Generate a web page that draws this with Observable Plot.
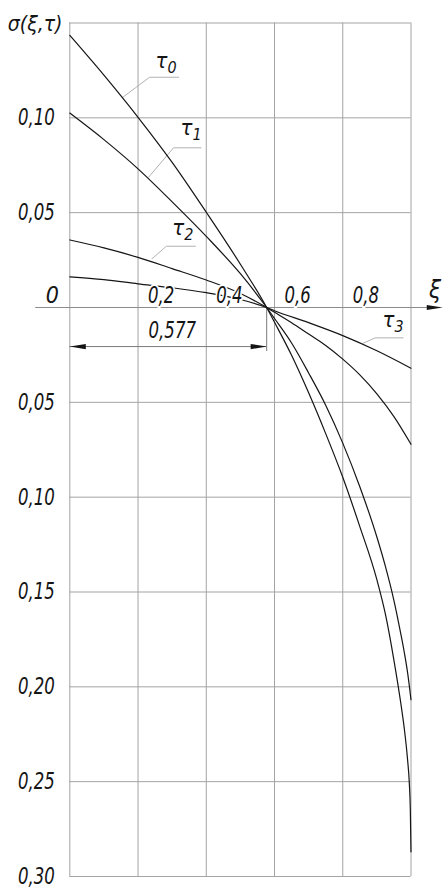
<!DOCTYPE html>
<html><head><meta charset="utf-8">
<script src="https://cdn.jsdelivr.net/npm/d3@7"></script>
<script src="https://cdn.jsdelivr.net/npm/@observablehq/plot@0.6"></script>
<style>html,body{margin:0;padding:0;background:#fff;} svg{display:block}</style>
</head><body><div id="chart"></div>
<script>
// ---- data ----
const seriesNames = ["τ0", "τ1", "τ2", "τ3"];
const seriesSubs = ["0", "1", "2", "3"];

const xiTau0 = [0, 0.1, 0.2, 0.3, 0.4, 0.5, 0.577, 0.6, 0.65, 0.7, 0.75, 0.8, 0.85, 0.9, 0.925, 0.95, 0.97, 0.98, 0.99, 0.995, 0.998, 1.0];
const sigmaTau0 = [0.1435, 0.1225, 0.1003, 0.0765, 0.0502, 0.0228, 0, -0.0078, -0.0252, -0.045, -0.0665, -0.0895, -0.1155, -0.1435, -0.1617, -0.186, -0.2085, -0.2215, -0.2385, -0.2505, -0.2645, -0.287];

const xiTau1 = [0, 0.1, 0.2, 0.3, 0.4, 0.5, 0.577, 0.6, 0.65, 0.7, 0.75, 0.8, 0.85, 0.9, 0.925, 0.95, 0.97, 0.98, 0.99, 1.0];
const sigmaTau1 = [0.1025, 0.0885, 0.0731, 0.0557, 0.0375, 0.0178, 0, -0.0058, -0.0187, -0.0345, -0.0515, -0.0715, -0.0945, -0.121, -0.1365, -0.1545, -0.172, -0.1815, -0.1925, -0.2068];

const xiTau2 = [0, 0.1, 0.2, 0.3, 0.4, 0.5, 0.577, 0.6, 0.65, 0.7, 0.75, 0.8, 0.85, 0.9, 0.95, 1.0];
const sigmaTau2 = [0.0356, 0.0314, 0.0264, 0.0205, 0.0145, 0.0074, 0, -0.0025, -0.0080, -0.0140, -0.0200, -0.0272, -0.0355, -0.0455, -0.0575, -0.0721];

const xiTau3 = [0, 0.1, 0.2, 0.3, 0.4, 0.5, 0.577, 0.6, 0.7, 0.8, 0.9, 1.0];
const sigmaTau3 = [0.0162, 0.0147, 0.0125, 0.0104, 0.0078, 0.0042, 0, -0.0017, -0.0080, -0.0148, -0.0228, -0.032];

// grid & tick labels
const xGrid = [0, 0.2, 0.4, 0.6, 0.8, 1.0];
const yGrid = [0.15, 0.10, 0.05, -0.05, -0.10, -0.15, -0.20, -0.25, -0.30];
const xTickValues = [0.2, 0.4, 0.6, 0.8];
const xTickLabels = ["0,2", "0,4", "0,6", "0,8"];
const yTickValues = [0.10, 0.05, -0.05, -0.10, -0.15, -0.20, -0.25, -0.30];
const yTickLabels = ["0,10", "0,05", "0,05", "0,10", "0,15", "0,20", "0,25", "0,30"];
const originLabel = "0";
const xTitle = "ξ";
const yTitle = "σ(ξ,τ)";

// annotations (data coordinates)
const dimValue = 0.577;
const dimLabel = "0,577";
const dimSigma = -0.0206;
const dimExtSigma = -0.0232;
const axisLineXi = [-0.1, 1.093];
const labelXi = [0.251, 0.3245, 0.300, 0.9164];
const labelSigma = [0.1265, 0.0907, 0.038, -0.0105];
const leaderXi = [[0.1534, 0.234, 0.319], [0.231, 0.304, 0.3845], [0.241, 0.283, 0.368], [0.860, 0.895, 0.977]];
const leaderSigma = [[0.1106, 0.1214, 0.1214], [0.0687, 0.0842, 0.0842], [0.0257, 0.0323, 0.0323], [-0.0188, -0.016, -0.016]];

// ---- build tables ----
const xiAll = [xiTau0, xiTau1, xiTau2, xiTau3];
const sigmaAll = [sigmaTau0, sigmaTau1, sigmaTau2, sigmaTau3];
const curves = seriesNames.flatMap((s, i) => xiAll[i].map((x, j) => ({series: s, xi: x, sigma: sigmaAll[i][j]})));
const leaders = seriesNames.flatMap((s, i) => leaderXi[i].map((x, j) => ({series: s, xi: x, sigma: leaderSigma[i][j]})));
const labels = seriesNames.map((s, i) => ({series: s, sub: seriesSubs[i], xi: labelXi[i], sigma: labelSigma[i]}));

const arrowRight = {draw(ctx) { ctx.moveTo(0, 0); ctx.lineTo(-16, -2.6); ctx.lineTo(-16, 2.6); ctx.closePath(); }};
const arrowLeft = {draw(ctx) { ctx.moveTo(0, 0); ctx.lineTo(16, -2.6); ctx.lineTo(16, 2.6); ctx.closePath(); }};

const gridColor = "#a3a3a3";
const ink = "#151515";

const chart = Plot.plot({
  width: 443,
  height: 888,
  marginLeft: 69.3,
  marginRight: 32.5,
  marginTop: 22.5,
  marginBottom: 12,
  x: {domain: [0, 1], axis: null},
  y: {domain: [-0.30, 0.15], axis: null},
  style: {
    fontFamily: "'Liberation Sans Narrow', 'DejaVu Sans Condensed', 'Liberation Sans', sans-serif",
    fontStyle: "italic",
    fontSize: "23px",
    background: "#fff",
    color: ink
  },
  marks: [
    Plot.ruleX(xGrid, {x: d => d, y1: -0.30, y2: 0.15, stroke: gridColor, strokeWidth: 1}),
    Plot.ruleY(yGrid, {y: d => d, x1: 0, x2: 1, stroke: gridColor, strokeWidth: 1}),
    // horizontal axis with arrow
    Plot.ruleY([0], {y: d => d, x1: axisLineXi[0], x2: axisLineXi[1] - 0.01, stroke: "#8c8c8c", strokeWidth: 1}),
    Plot.dot([0], {x: () => axisLineXi[1], y: d => d, symbol: arrowRight, fill: ink, stroke: "none"}),
    // dimension 0,577
    Plot.ruleY([dimSigma], {y: d => d, x1: 0, x2: dimValue, stroke: "#7a7a7a", strokeWidth: 1}),
    Plot.ruleX([dimValue], {x: d => d, y1: 0, y2: dimExtSigma, stroke: "#7a7a7a", strokeWidth: 1}),
    Plot.dot([dimSigma], {x: () => 0, y: d => d, symbol: arrowLeft, fill: ink, stroke: "none"}),
    Plot.dot([dimSigma], {x: () => dimValue, y: d => d, symbol: arrowRight, fill: ink, stroke: "none"}),
    Plot.text([dimLabel], {x: () => dimValue / 2, y: () => dimSigma, text: d => d, dx: 4, dy: -9, lineAnchor: "bottom", textAnchor: "middle", fill: ink}),
    // leader lines
    Plot.line(leaders, {x: "xi", y: "sigma", z: "series", stroke: "#a8a8a8", strokeWidth: 0.9}),
    // curves
    Plot.line(curves, {x: "xi", y: "sigma", z: "series", stroke: ink, strokeWidth: 1.2, curve: "monotone-x"}),
    // tick labels
    Plot.text(yTickValues, {x: () => 0, y: d => d, text: (d, i) => yTickLabels[i], textAnchor: "end", dx: -15, dy: 0, fill: ink}),
    Plot.text(xTickValues, {x: d => d, y: () => 0, text: (d, i) => xTickLabels[i], textAnchor: "start", lineAnchor: "bottom", dx: 10, dy: -5, fill: ink, stroke: "#fff", strokeWidth: 4}),
    Plot.text([originLabel], {x: () => 0, y: () => 0, text: d => d, textAnchor: "end", lineAnchor: "bottom", dx: -11, dy: -5, fill: ink}),
    Plot.text([xTitle], {x: () => 1, y: () => 0, text: d => d, textAnchor: "start", lineAnchor: "bottom", dx: 18, dy: -10, fontSize: 24, fill: ink}),
    Plot.text([yTitle], {frameAnchor: "top-left", text: d => d, textAnchor: "start", lineAnchor: "bottom", dx: -62, dy: 8, fontSize: 21, fill: ink}),
    // curve labels
    Plot.text(labels, {x: "xi", y: "sigma", text: () => "τ", textAnchor: "start", lineAnchor: "bottom", fontSize: 22, fill: ink}),
    Plot.text(labels, {x: "xi", y: "sigma", text: "sub", textAnchor: "start", lineAnchor: "bottom", dx: 12, dy: 5, fontSize: 16, fill: ink})
  ]
});
document.getElementById("chart").appendChild(chart);

// narrow the numeric labels (drafting-style condensed digits)
d3.select(chart).selectAll("text").each(function () {
  const t = this.textContent;
  if (/^[0-9,]+$/.test(t) && t.length > 1) {
    const w = this.getComputedTextLength();
    this.setAttribute("textLength", (w * 0.8).toFixed(1));
    this.setAttribute("lengthAdjust", "spacingAndGlyphs");
  }
});
</script>
</body></html>
